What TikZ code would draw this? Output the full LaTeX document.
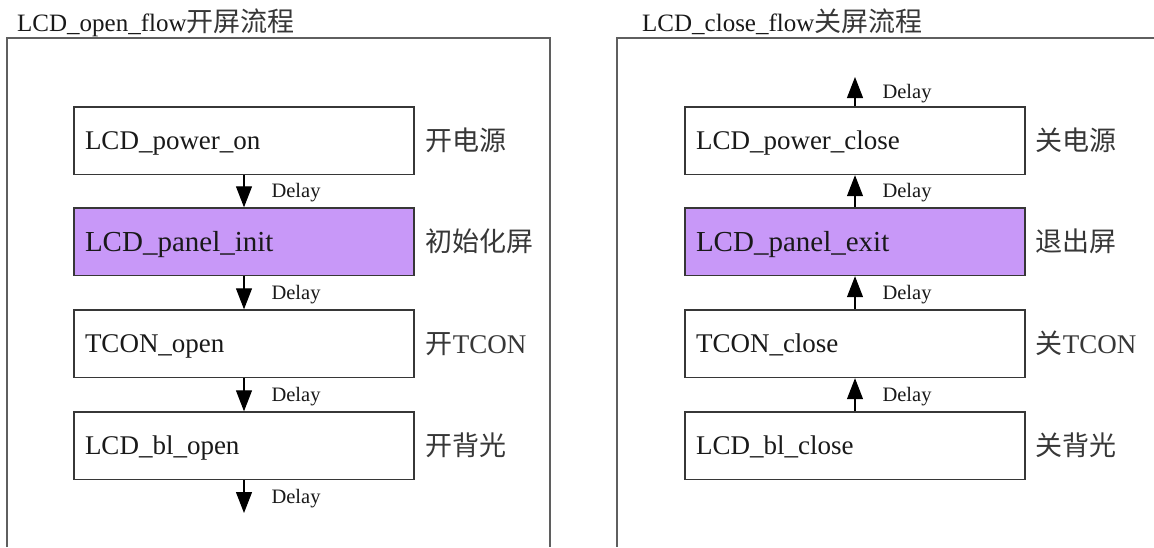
\documentclass[tikz,border=0pt]{standalone}
\usepackage{fontspec}
\setmainfont{Liberation Serif}
\newfontfamily\cjk{Noto Sans CJK SC}
\usetikzlibrary{arrows.meta}
\definecolor{framegray}{RGB}{95,95,95}
\definecolor{boxedge}{RGB}{55,55,55}
\definecolor{panel}{RGB}{200,152,248}
\definecolor{ink}{RGB}{25,25,25}
\definecolor{cjkink}{RGB}{55,55,55}
\begin{document}
\begin{tikzpicture}[x=1pt,y=-1pt,
  stepbox/.style={draw=boxedge, line width=1.4pt, minimum width=340pt, minimum height=67.5pt,
    text width=318pt, align=left, inner xsep=11pt, inner ysep=0pt, text height=18pt, text depth=0pt,
    font=\fontsize{27}{30}\selectfont, text=ink},
  hlbox/.style={stepbox, fill=panel, font=\fontsize{29}{32}\selectfont, text height=19pt},
  cnlabel/.style={anchor=west, inner sep=0pt, text height=20pt, text depth=0pt,
    font=\fontsize{27}{30}\selectfont\cjk, text=cjkink},
  delaylab/.style={anchor=west, inner sep=0pt, text height=13pt, text depth=0pt,
    font=\fontsize{20.5}{22}\selectfont, text=ink},
  arr/.style={draw=black, line width=1.1pt, -{Triangle[width=16pt,length=21pt]}},
  frameline/.style={draw=framegray, line width=1.6pt},
  title/.style={anchor=base west, inner sep=0pt, font=\fontsize{25}{28}\selectfont, text=ink}
]
\useasboundingbox (0,0) rectangle (1154,547);
\fill[white] (0,0) rectangle (1154,547);

% frames
\draw[frameline] (7,547) -- (7,38) -- (550,38) -- (550,547);
\draw[frameline] (1154,38) -- (617,38) -- (617,547);

% titles
\node[title] (t1) at (17,31) {LCD\_open\_flow{\cjk\fontsize{27}{30}\selectfont\color{cjkink} 开屏流程}};
\node[title] (t2) at (642,31) {LCD\_close\_flow{\cjk\fontsize{27}{30}\selectfont\color{cjkink} 关屏流程}};

% left flow
\node[stepbox] (l1) at (244,140.75) {LCD\_power\_on};
\node[hlbox]   (l2) at (244,241.75) {LCD\_panel\_init};
\node[stepbox] (l3) at (244,343.75) {TCON\_open};
\node[stepbox] (l4) at (244,445.75) {LCD\_bl\_open};
\coordinate (lend) at (244,513);

\node[cnlabel] (lc1) at ([xshift=11pt]l1.east) {开电源};
\node[cnlabel] (lc2) at ([xshift=11pt]l2.east) {初始化屏};
\node[cnlabel] (lc3) at ([xshift=11pt]l3.east) {开{\rmfamily TCON}};
\node[cnlabel] (lc4) at ([xshift=11pt]l4.east) {开背光};

\draw[arr] (l1.south) -- (l2.north) node[delaylab, midway, xshift=27pt] (ld1) {Delay};
\draw[arr] (l2.south) -- (l3.north) node[delaylab, midway, xshift=27pt] (ld2) {Delay};
\draw[arr] (l3.south) -- (l4.north) node[delaylab, midway, xshift=27pt] (ld3) {Delay};
\draw[arr] (l4.south) -- (lend) node[delaylab, midway, xshift=27pt] (ld4) {Delay};

% right flow
\node[stepbox] (r1) at (855,140.75) {LCD\_power\_close};
\node[hlbox]   (r2) at (855,241.75) {LCD\_panel\_exit};
\node[stepbox] (r3) at (855,343.75) {TCON\_close};
\node[stepbox] (r4) at (855,445.75) {LCD\_bl\_close};
\coordinate (rend) at (855,77);

\node[cnlabel] (rc1) at ([xshift=10pt]r1.east) {关电源};
\node[cnlabel] (rc2) at ([xshift=10pt]r2.east) {退出屏};
\node[cnlabel] (rc3) at ([xshift=10pt]r3.east) {关{\rmfamily TCON}};
\node[cnlabel] (rc4) at ([xshift=10pt]r4.east) {关背光};

\draw[arr] (r4.north) -- (r3.south) node[delaylab, midway, xshift=27pt] (rd1) {Delay};
\draw[arr] (r3.north) -- (r2.south) node[delaylab, midway, xshift=27pt] (rd2) {Delay};
\draw[arr] (r2.north) -- (r1.south) node[delaylab, midway, xshift=27pt] (rd3) {Delay};
\draw[arr] (r1.north) -- (rend) node[delaylab, midway, xshift=27pt] (rd4) {Delay};
\end{tikzpicture}
\end{document}
